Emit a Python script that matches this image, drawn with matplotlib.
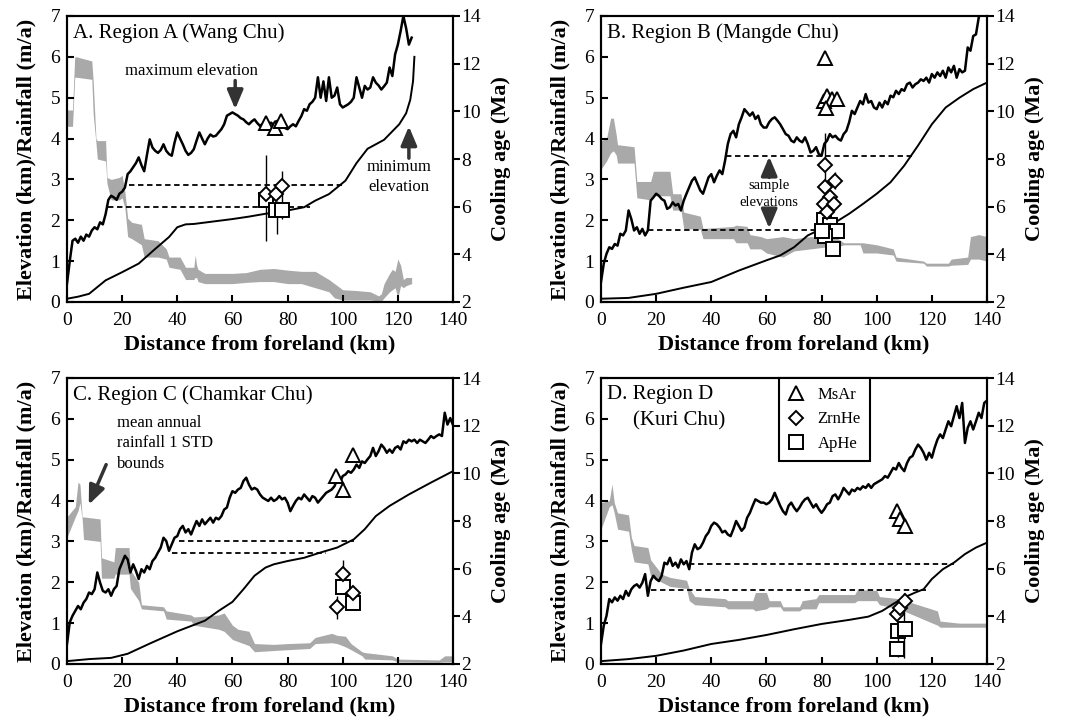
import numpy as np
import matplotlib
matplotlib.use('Agg')
import matplotlib.pyplot as plt
from matplotlib.lines import Line2D

plt.rcParams['font.family'] = 'serif'
plt.rcParams['font.serif'] = ['Liberation Serif', 'DejaVu Serif']

# ---------------- Region A (Wang Chu) ----------------
a_max_elev = [0.45, 1.0, 1.5, 1.55, 1.45, 1.6, 1.5, 1.65, 1.6, 1.75, 1.83, 1.78, 1.95, 1.9, 2.15,
              2.5, 2.6, 2.56, 2.5, 2.65, 2.7, 2.8, 3.13, 3.2, 3.3, 3.4, 3.54, 3.35, 3.2, 3.6,
              3.98, 3.78, 3.7, 3.65, 3.72, 3.86, 3.7, 3.62, 3.58, 3.9, 4.15, 4.0, 3.86, 3.7, 3.6,
              3.65, 3.74, 3.95, 4.15, 4.0, 3.86, 4.0, 4.1, 4.05, 4.07, 4.15, 4.23, 4.35, 4.56, 4.6,
              4.64, 4.6, 4.56, 4.5, 4.47, 4.4, 4.35, 4.42, 4.47, 4.38, 4.31, 4.36, 4.35, 4.3, 4.39,
              4.33, 4.43, 4.38, 4.31, 4.26, 4.23, 4.3, 4.35, 4.3, 4.43, 4.55, 4.72, 4.68, 4.84, 4.9,
              5.0, 5.5, 5.0, 5.4, 4.92, 5.5, 5.0, 5.05, 5.25, 4.84, 4.76, 4.8, 4.84, 4.9, 5.0,
              5.5, 5.25, 5.0, 5.29, 5.2, 5.25, 5.5, 5.37, 5.3, 5.2, 5.28, 5.37, 5.74, 5.53, 6.06,
              6.3, 6.63, 7.0, 6.7, 6.3, 6.47]
a_min_km = [0, 4, 8, 14, 20, 26, 32, 37, 40, 43, 46, 53, 60, 66, 72, 80, 86, 90, 95, 101,
            105, 109, 115, 120.5, 123, 124.5, 125.5, 126]
a_min_elev = [0.08, 0.13, 0.2, 0.53, 0.73, 0.94, 1.3, 1.59, 1.83, 1.9, 1.91, 1.97, 2.03, 2.09,
              2.16, 2.24, 2.32, 2.48, 2.64, 2.97, 3.4, 3.75, 3.97, 4.35, 4.62, 4.95, 5.4, 6.0]
a_rain_km = [0, 2, 2.8, 3.5, 9, 9.5, 10.5, 11, 14, 14.5, 16, 19, 20, 21, 22, 23.5, 27, 28, 33,
             36, 37, 41, 43, 46, 46.5, 47, 47.5, 50, 55, 60, 65, 70, 75, 80, 85, 90, 95, 97,
             100, 105, 110, 113, 114, 115, 117, 118, 119, 120, 121, 122, 123, 125]
a_rain_lo = [4.3, 4.3, 5.5, 5.5, 5.45, 4.6, 3.9, 3.5, 3.45, 2.9, 2.5, 2.5, 2.55, 2.3, 1.6, 1.55,
             1.4, 1.1, 1.1, 1.05, 0.85, 0.8, 0.55, 0.55, 0.6, 0.6, 0.5, 0.45, 0.45, 0.45, 0.48,
             0.5, 0.5, 0.45, 0.45, 0.35, 0.25, 0.1, 0.05, 0.05, 0.05, 0.02, 0.02, 0.1, 0.25, 0.3,
             0.35, 0.1, 0.4, 0.35, 0.4, 0.45]
a_rain_hi = [4.7, 4.7, 6.0, 6.0, 5.9, 5.4, 4.0, 3.95, 3.95, 3.05, 3.0, 3.05, 3.1, 2.7, 2.05, 1.95,
             1.9, 1.55, 1.5, 1.3, 1.1, 1.1, 0.85, 0.85, 1.15, 0.9, 0.8, 0.7, 0.7, 0.7, 0.72, 0.8,
             0.82, 0.78, 0.75, 0.75, 0.55, 0.45, 0.3, 0.28, 0.25, 0.15, 0.2, 0.45, 0.7, 0.8, 0.75,
             1.05, 0.9, 0.55, 0.6, 0.6]
a_sample_elev = [2.87, 2.33]
a_sample_from = [22.5, 15.0]
a_sample_to = [101.0, 88.0]
a_msar_km, a_msar_age = [72, 75.5, 77.5], [9.5, 9.3, 9.6]
a_zrn_km, a_zrn_age = [72.3, 75.8, 77.8], [6.55, 6.55, 6.85]
a_aphe_km, a_aphe_age = [72.3, 75.8, 78.0], [6.3, 5.85, 5.85]
a_err_km = [72.0, 76.0, 78.0]
a_err_lo = [4.55, 4.85, 5.5]
a_err_hi = [8.15, 6.25, 7.5]

# ---------------- Region B (Mangde Chu) ----------------
b_max_elev = [0.49, 0.94, 1.18, 1.34, 1.3, 1.42, 1.38, 1.67, 1.63, 1.75, 2.24, 2.03, 1.75, 1.83,
              1.67, 1.79, 1.63, 1.75, 2.48, 2.56, 2.65, 2.6, 2.52, 2.48, 2.28, 2.32, 2.44, 2.36,
              2.4, 2.24, 2.48, 2.65, 2.81, 2.97, 3.05, 2.89, 2.73, 2.65, 2.85, 3.05, 3.13, 2.93,
              3.09, 3.22, 3.13, 3.46, 3.87, 4.11, 4.19, 4.03, 4.35, 4.52, 4.72, 4.64, 4.56, 4.64,
              4.48, 4.56, 4.35, 4.27, 4.27, 4.4, 4.48, 4.52, 4.44, 4.35, 4.23, 4.11, 4.07, 3.95,
              3.91, 4.03, 3.95, 3.91, 4.03, 3.87, 3.66, 3.7, 3.79, 3.62, 3.58, 3.87, 3.95, 4.11,
              4.03, 4.07, 3.99, 3.95, 4.11, 4.19, 4.4, 4.68, 4.6, 4.76, 4.92, 4.84, 5.09, 4.88,
              4.92, 4.76, 4.72, 4.88, 4.76, 4.92, 4.84, 5.05, 5.01, 5.17, 5.09, 5.21, 5.17, 5.33,
              5.37, 5.25, 5.33, 5.37, 5.45, 5.41, 5.49, 5.37, 5.58, 5.49, 5.62, 5.53, 5.66, 5.49,
              5.74, 5.62, 5.78, 5.49, 5.7, 5.62, 5.66, 6.23, 6.15, 6.51, 6.55, 6.96, 7.3]
b_min_km = [0, 10, 20, 30, 40, 50, 60, 65, 70, 75, 80, 85, 90, 95, 100, 105, 110, 115, 120,
            125, 130, 135, 140]
b_min_elev = [0.08, 0.1, 0.2, 0.35, 0.49, 0.77, 1.02, 1.14, 1.34, 1.63, 1.79, 1.95, 2.16, 2.4,
              2.65, 2.93, 3.34, 3.83, 4.35, 4.76, 5.0, 5.21, 5.37]
b_rain_km = [0, 2, 3.5, 4.5, 5.5, 6, 12, 13, 18, 19, 25, 26, 29, 30, 36, 37, 48, 49, 53, 54, 58,
             60, 66, 70, 76, 82, 86, 88, 94, 95, 100, 106, 107, 117, 118, 126, 127, 133, 134,
             137, 140]
b_rain_lo = [3.25, 3.45, 3.65, 3.7, 3.6, 3.4, 3.4, 2.55, 2.5, 2.6, 2.6, 2.25, 2.25, 1.8, 1.78,
             1.55, 1.55, 1.45, 1.45, 1.3, 1.3, 1.2, 1.1, 1.25, 1.3, 1.35, 1.35, 1.4, 1.4, 1.2,
             1.2, 1.15, 1.0, 0.95, 0.88, 0.88, 0.9, 0.92, 1.05, 1.05, 1.0]
b_rain_hi = [3.95, 4.0, 4.5, 4.5, 4.1, 3.85, 3.8, 2.95, 2.95, 3.2, 3.2, 2.65, 2.65, 2.2, 2.1,
             1.8, 1.85, 1.88, 1.85, 1.65, 1.6, 1.55, 1.6, 1.55, 1.6, 1.58, 1.55, 1.45, 1.45,
             1.45, 1.4, 1.3, 1.1, 1.0, 0.95, 0.95, 1.05, 1.1, 1.6, 1.65, 1.6]
b_sample_elev = [3.58, 1.77]
b_sample_from = [45.5, 17.0]
b_sample_to = [113.0, 80.0]
b_msar_km = [81.4, 80.8, 82.0, 83.8, 85.6, 81.5]
b_msar_age = [12.25, 10.44, 10.65, 10.5, 10.5, 10.16]
b_zrn_km = [81.4, 81.4, 85.0, 83.0, 80.8, 84.4, 82.0]
b_zrn_age = [7.75, 6.81, 7.09, 6.39, 6.12, 6.12, 5.77]
b_aphe_km = [80.8, 83.2, 85.6, 81.4, 84.2, 80.3]
b_aphe_age = [5.42, 5.21, 5.0, 4.79, 4.23, 5.0]
b_err_km = [81.2, 85.0, 80.5]
b_err_lo = [6.9, 6.75, 4.6]
b_err_hi = [9.1, 7.45, 5.9]

# ---------------- Region C (Chamkar Chu) ----------------
c_max_elev = [0.49, 1.02, 1.18, 1.3, 1.42, 1.34, 1.5, 1.59, 1.75, 1.71, 1.83, 2.24, 1.99, 1.79,
              1.75, 1.83, 1.67, 1.83, 1.91, 2.32, 2.48, 2.65, 2.56, 2.24, 2.44, 2.28, 2.08, 2.32,
              2.24, 2.4, 2.32, 2.52, 2.6, 2.73, 2.85, 3.09, 3.01, 2.77, 2.93, 3.09, 3.13, 3.3,
              3.38, 3.22, 3.3, 3.17, 3.34, 3.5, 3.38, 3.54, 3.42, 3.5, 3.58, 3.46, 3.58, 3.54,
              3.62, 3.78, 3.83, 4.07, 4.23, 4.19, 4.27, 4.31, 4.48, 4.56, 4.39, 4.27, 4.31, 4.27,
              4.15, 4.07, 4.03, 3.99, 4.07, 3.99, 4.03, 4.11, 4.03, 4.07, 3.95, 3.74, 3.87, 3.99,
              4.07, 4.03, 4.15, 4.07, 3.99, 4.11, 4.07, 3.95, 4.03, 4.11, 4.19, 4.23, 4.27, 4.35,
              4.52, 4.44, 4.6, 4.64, 4.72, 4.68, 4.76, 4.88, 4.8, 4.96, 4.92, 5.01, 5.09, 5.29,
              5.09, 5.21, 5.37, 5.29, 5.17, 5.25, 5.17, 5.29, 5.33, 5.25, 5.45, 5.41, 5.49, 5.45,
              5.49, 5.41, 5.49, 5.45, 5.41, 5.49, 5.58, 5.53, 5.58, 5.62, 5.58, 6.15, 5.86, 6.02,
              5.85]
c_min_km = [0, 8, 16, 22, 30, 40, 50, 55, 60, 64, 68, 72, 75, 80, 86, 92, 98, 104, 108, 112,
            117, 124, 132, 140]
c_min_elev = [0.07, 0.12, 0.15, 0.25, 0.5, 0.8, 1.06, 1.3, 1.52, 1.83, 2.16, 2.36, 2.44, 2.52,
              2.6, 2.73, 2.85, 3.05, 3.3, 3.62, 3.87, 4.15, 4.44, 4.72]
c_rain_km = [0, 3, 4, 4.7, 5.5, 6, 12, 12.5, 17, 17.5, 22.5, 23, 26, 27, 35, 36, 45, 46, 55, 57,
             60, 62, 66, 68, 75, 80, 88, 90, 96, 98, 101, 103, 107, 108, 118, 120, 135, 137, 140]
c_rain_lo = [3.1, 3.6, 3.75, 3.95, 3.55, 3.05, 3.0, 2.1, 2.1, 2.2, 2.2, 1.85, 1.55, 1.35, 1.3,
             1.1, 1.05, 0.95, 0.85, 0.8, 0.6, 0.55, 0.45, 0.3, 0.33, 0.35, 0.38, 0.5, 0.52, 0.5,
             0.42, 0.35, 0.2, 0.12, 0.1, 0.05, 0.04, 0.05, 0.05]
c_rain_hi = [3.6, 3.85, 4.45, 4.4, 3.6, 3.6, 3.55, 2.6, 2.5, 2.85, 2.85, 2.3, 2.0, 1.45, 1.4,
             1.3, 1.2, 1.15, 1.2, 1.25, 0.95, 0.85, 0.8, 0.5, 0.48, 0.5, 0.52, 0.65, 0.75, 0.7,
             0.68, 0.5, 0.3, 0.28, 0.2, 0.12, 0.1, 0.2, 0.2]
c_sample_elev = [3.0, 2.72]
c_sample_from = [40.5, 38.0]
c_sample_to = [104.0, 94.0]
c_msar_km, c_msar_age = [97.7, 103.7, 100.1], [9.88, 10.79, 9.32]
c_zrn_km, c_zrn_age = [100.1, 103.7, 98.0], [5.77, 5.0, 4.4]
c_aphe_km, c_aphe_age = [100.0, 103.7], [5.21, 4.58]
c_err_km = [100.1, 98.0]
c_err_lo = [5.6, 3.9]
c_err_hi = [6.35, 4.85]

# ---------------- Region D (Kuri Chu) ----------------
d_max_elev = [0.49, 0.94, 1.18, 1.59, 1.51, 1.63, 1.55, 1.67, 1.59, 1.79, 1.67, 1.83, 1.91, 1.95,
              1.87, 1.99, 2.2, 1.67, 2.03, 2.16, 2.08, 2.03, 2.16, 2.48, 2.44, 2.6, 2.4, 2.48,
              2.36, 2.56, 2.44, 2.52, 2.32, 2.73, 2.93, 2.81, 2.85, 2.97, 3.13, 3.22, 3.38, 3.46,
              3.42, 3.34, 3.22, 3.26, 3.17, 3.13, 3.3, 3.5, 3.38, 3.26, 3.34, 3.58, 3.7, 3.87,
              4.03, 3.99, 3.95, 3.95, 3.91, 3.95, 4.03, 4.19, 4.03, 3.87, 3.74, 3.66, 3.87, 3.95,
              3.83, 3.74, 3.83, 3.95, 4.03, 4.07, 3.95, 3.83, 3.91, 3.79, 3.7, 3.79, 3.91, 3.95,
              4.11, 4.15, 4.03, 4.15, 4.31, 4.23, 4.15, 4.27, 4.23, 4.31, 4.27, 4.35, 4.31, 4.4,
              4.31, 4.4, 4.44, 4.48, 4.52, 4.6, 4.56, 4.68, 4.8, 4.76, 4.92, 4.8, 4.72, 4.92, 5.05,
              5.09, 5.25, 5.37, 5.29, 5.17, 5.0, 5.17, 5.05, 5.29, 5.49, 5.62, 5.53, 5.74, 5.94,
              5.82, 6.06, 6.31, 6.02, 6.39, 5.41, 5.78, 5.94, 5.74, 5.94, 6.15, 6.02, 6.39, 6.45]
d_min_km = [0, 10, 20, 30, 40, 50, 60, 70, 80, 90, 97, 102, 106, 110, 114, 117, 120, 124, 128,
            132, 136, 140]
d_min_elev = [0.07, 0.12, 0.2, 0.33, 0.49, 0.59, 0.71, 0.85, 0.98, 1.08, 1.16, 1.3, 1.47, 1.63,
              1.75, 1.83, 2.08, 2.32, 2.48, 2.69, 2.85, 2.97]
d_rain_km = [0, 3, 4, 4.8, 6, 10, 11, 12, 17, 18, 22, 25, 31, 32, 34, 45, 46, 55, 56, 60, 61,
             65, 66, 72, 73, 78, 79, 92, 93, 100, 101, 108, 115, 122, 123, 130, 140]
d_rain_lo = [3.3, 3.85, 3.9, 3.7, 3.3, 3.25, 2.8, 2.5, 2.45, 2.15, 2.0, 1.9, 1.85, 1.55, 1.45,
             1.4, 1.35, 1.35, 1.3, 1.35, 1.4, 1.4, 1.3, 1.3, 1.35, 1.35, 1.5, 1.5, 1.55, 1.55,
             1.45, 1.35, 1.15, 0.95, 0.9, 0.9, 0.9]
d_rain_hi = [3.95, 4.0, 4.4, 3.95, 3.7, 3.65, 3.1, 2.9, 2.85, 2.55, 2.2, 2.12, 2.05, 1.85, 1.65,
             1.6, 1.55, 1.55, 1.75, 1.75, 1.55, 1.55, 1.4, 1.4, 1.55, 1.6, 1.7, 1.7, 1.82, 1.8,
             1.65, 1.6, 1.45, 1.3, 1.05, 1.0, 1.0]
d_sample_elev = [2.44, 1.81]
d_sample_from = [32.0, 18.0]
d_sample_to = [128.0, 118.0]
d_msar_km, d_msar_age = [107.5, 108.5, 110.3], [8.42, 8.07, 7.79]
d_zrn_km, d_zrn_age = [107.5, 108.5, 110.3], [4.09, 4.37, 4.65]
d_aphe_km, d_aphe_age = [107.8, 110.3, 107.2], [3.39, 3.46, 2.63]
d_err_km = [110.0, 107.8]
d_err_lo = [2.25, 2.3]
d_err_hi = [5.0, 3.1]

RAIN_GREY = '#a9a9a9'
ARROW_GREY = '#333333'


def draw_panel(ax, max_elev, min_km, min_elev, rain_km, rain_lo, rain_hi,
               sample_elev, sample_from, sample_to, msar, zrn, aphe, errs):
    """Elevation / rainfall profile on the left axis, cooling ages on the right."""
    dist = np.arange(len(max_elev))  # 1 km spacing along the swath

    ax.fill_between(rain_km, rain_lo, rain_hi, color=RAIN_GREY, lw=0, zorder=1)
    ax.plot(dist, max_elev, color='k', lw=1.8, zorder=3)
    ax.plot(min_km, min_elev, color='k', lw=1.4, zorder=3)
    ax.hlines(sample_elev, sample_from, sample_to, colors='k', lw=1.3,
              linestyles=(0, (3, 2)), zorder=2)

    ax.set_xlim(0, 140)
    ax.set_ylim(0, 7)
    ax.set_xticks(range(0, 141, 20))
    ax.set_yticks(range(0, 8))
    ax.tick_params(axis='both', direction='in', length=5, width=1.5, labelsize=14,
                   top=False, right=False)
    ax.tick_params(axis='x', pad=7)
    ax.tick_params(axis='y', pad=5)
    for s in ax.spines.values():
        s.set_linewidth(1.5)
    ax.set_xlabel('Distance from foreland (km)', fontsize=16, fontweight='bold', labelpad=4)
    ax.set_ylabel('Elevation (km)/Rainfall (m/a)', fontsize=16, fontweight='bold', labelpad=10)

    ax2 = ax.twinx()
    ax2.set_ylim(2, 14)
    ax2.set_yticks(range(2, 15, 2))
    ax2.tick_params(axis='y', direction='out', length=5, width=1.5, labelsize=14, pad=1)
    ax2.set_ylabel('Cooling age (Ma)', fontsize=16, fontweight='bold', labelpad=7)
    for s in ax2.spines.values():
        s.set_linewidth(1.5)

    ax2.vlines(errs[0], errs[1], errs[2], colors='k', lw=1.0, zorder=4)
    style = dict(ls='none', mfc='white', mec='k', mew=1.4, zorder=5)
    ax2.plot(aphe[0], aphe[1], marker='s', ms=10, **style)
    ax2.plot(zrn[0], zrn[1], marker='D', ms=7, **style)
    ax2.plot(msar[0], msar[1], marker='^', ms=10, **style)
    return ax2


def arrow(ax, tail, tip):
    ax.annotate('', xy=tip, xytext=tail,
                arrowprops=dict(arrowstyle='-|>,head_length=0.95,head_width=0.4',
                                color=ARROW_GREY, lw=2.5, mutation_scale=12,
                                shrinkA=0, shrinkB=0), zorder=6)


fig = plt.figure(figsize=(10.82, 7.27), dpi=100)
W, H = 386 / 1082, 286 / 727
ax_a = fig.add_axes([67 / 1082, (727 - 302) / 727, W, H])
ax_b = fig.add_axes([601 / 1082, (727 - 302) / 727, W, H])
ax_c = fig.add_axes([67 / 1082, (727 - 664) / 727, W, H])
ax_d = fig.add_axes([601 / 1082, (727 - 664) / 727, W, H])

draw_panel(ax_a, a_max_elev, a_min_km, a_min_elev, a_rain_km, a_rain_lo, a_rain_hi,
           a_sample_elev, a_sample_from, a_sample_to,
           (a_msar_km, a_msar_age), (a_zrn_km, a_zrn_age), (a_aphe_km, a_aphe_age),
           (a_err_km, a_err_lo, a_err_hi))
draw_panel(ax_b, b_max_elev, b_min_km, b_min_elev, b_rain_km, b_rain_lo, b_rain_hi,
           b_sample_elev, b_sample_from, b_sample_to,
           (b_msar_km, b_msar_age), (b_zrn_km, b_zrn_age), (b_aphe_km, b_aphe_age),
           (b_err_km, b_err_lo, b_err_hi))
draw_panel(ax_c, c_max_elev, c_min_km, c_min_elev, c_rain_km, c_rain_lo, c_rain_hi,
           c_sample_elev, c_sample_from, c_sample_to,
           (c_msar_km, c_msar_age), (c_zrn_km, c_zrn_age), (c_aphe_km, c_aphe_age),
           (c_err_km, c_err_lo, c_err_hi))
ax_d2 = draw_panel(ax_d, d_max_elev, d_min_km, d_min_elev, d_rain_km, d_rain_lo, d_rain_hi,
                   d_sample_elev, d_sample_from, d_sample_to,
                   (d_msar_km, d_msar_age), (d_zrn_km, d_zrn_age), (d_aphe_km, d_aphe_age),
                   (d_err_km, d_err_lo, d_err_hi))

# panel titles
ax_a.text(0.016, 0.975, 'A. Region A (Wang Chu)', transform=ax_a.transAxes,
          fontsize=15, va='top', ha='left')
ax_b.text(0.016, 0.975, 'B. Region B (Mangde Chu)', transform=ax_b.transAxes,
          fontsize=15, va='top', ha='left')
ax_c.text(0.016, 0.975, 'C. Region C (Chamkar Chu)', transform=ax_c.transAxes,
          fontsize=15, va='top', ha='left')
ax_d.text(0.016, 0.975, 'D. Region D', transform=ax_d.transAxes,
          fontsize=15, va='top', ha='left')
ax_d.text(0.083, 0.885, '(Kuri Chu)', transform=ax_d.transAxes,
          fontsize=15, va='top', ha='left')

# annotations
ax_a.text(45, 5.65, 'maximum elevation', fontsize=12, ha='center', va='center')
arrow(ax_a, (61, 5.42), (61, 4.72))
ax_a.text(120.5, 3.3, 'minimum', fontsize=12, ha='center', va='center')
ax_a.text(120.5, 2.82, 'elevation', fontsize=12, ha='center', va='center')
arrow(ax_a, (124, 3.52), (124, 4.3))

ax_b.text(61, 2.85, 'sample', fontsize=10.5, ha='center', va='center')
ax_b.text(61, 2.44, 'elevations', fontsize=10.5, ha='center', va='center')
arrow(ax_b, (61, 3.05), (61, 3.56))
arrow(ax_b, (61, 2.28), (61, 1.8))

ax_c.text(18.3, 5.9, 'mean annual', fontsize=12, ha='left', va='center')
ax_c.text(18.3, 5.41, 'rainfall 1 STD', fontsize=12, ha='left', va='center')
ax_c.text(18.3, 4.9, 'bounds', fontsize=12, ha='left', va='center')
arrow(ax_c, (14.2, 4.88), (7.9, 3.9))

# marker key
handles = [Line2D([], [], ls='none', marker=m, ms=s, mfc='white', mec='k', mew=1.4)
           for m, s in (('^', 10), ('D', 7), ('s', 10))]
leg = ax_d2.legend(handles, ['MsAr', 'ZrnHe', 'ApHe'], loc='upper left',
                   bbox_to_anchor=(0.46, 1.0), borderaxespad=0, fancybox=False,
                   edgecolor='k', framealpha=1, fontsize=12, handlelength=1.0,
                   handletextpad=0.8, labelspacing=0.5, borderpad=0.55)
leg.get_frame().set_linewidth(1.5)

fig.savefig('out.png', dpi=100)
